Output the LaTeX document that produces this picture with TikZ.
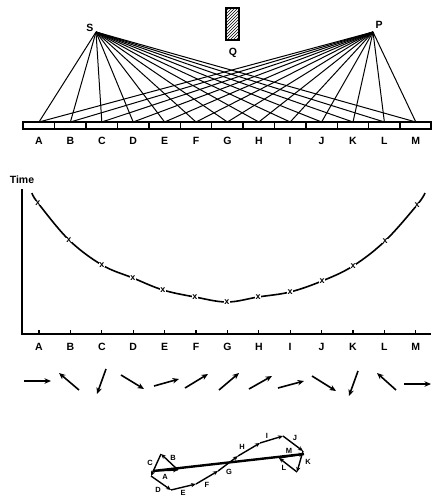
\documentclass[tikz,border=0pt]{standalone}
\usepackage{fontspec}
\setmainfont{Liberation Sans}
\usetikzlibrary{arrows.meta,patterns}
\begin{document}
\begin{tikzpicture}[x=1pt,y=-1pt,
  lbl/.style={font=\bfseries\fontsize{10.5}{12}\selectfont, inner sep=0pt},
  slbl/.style={font=\bfseries\fontsize{7.5}{8}\selectfont, inner sep=0pt},
  ray/.style={line width=1pt},
  axis/.style={line width=1.6pt},
  curve/.style={line width=1.6pt},
  xmark/.style={font=\bfseries\fontsize{9}{9}\selectfont, fill=white, inner sep=0.1pt},
  vec/.style={line width=1.6pt,-{Stealth[length=6.5pt,width=5.5pt]}},
  svec/.style={line width=1.4pt,-{Stealth[length=5pt,width=4.2pt]}},
  res/.style={line width=2.4pt}]
\useasboundingbox (0,0) rectangle (434,498);

% --- top: sources and strip
\coordinate (S) at (96,32);
\coordinate (P) at (373,32);
\node[lbl] (Slab) at (90,28) {S};
\node[lbl] (Plab) at (379,25) {P};
\node[draw, line width=1.2pt, pattern=north east lines, minimum width=13pt, minimum height=32pt, inner sep=0pt] (Q) at (232.5,24) {};
\node[lbl] (Qlab) at (233,53) {Q};

\draw[line width=1.5pt] (23,122) rectangle (431,129);
\foreach \i in {0,...,11} {
  \pgfmathsetmacro\dx{39+31.4*\i+15.7}
  \draw[line width=1.3pt] (\dx,122) -- (\dx,129);
}
\foreach \l [count=\i from 0] in {A,B,C,D,E,F,G,H,I,J,K,L,M} {
  \pgfmathsetmacro\xx{39+31.4*\i}
  \coordinate (s\l) at (\xx,122);
  \node[lbl] (t\l) at (\xx,141) {\l};
  \draw[ray] (S) -- (s\l);
  \draw[ray] (P) -- (s\l);
  % axis ticks and labels of the graph
  \coordinate (k\l) at (\xx,334);
  \draw[line width=1.1pt] (k\l) -- ++(0,-4);
  \node[lbl] (g\l) at (\xx,347) {\l};
}

% --- graph
\node[lbl] (time) at (22,180) {Time};
\coordinate (O) at (22,334);
\coordinate (Ytop) at (22,189);
\coordinate (Xend) at (431,334);
\draw[axis] (Ytop) -- (O) -- (Xend);
\draw[curve] plot[smooth, tension=0.6] coordinates {(32,193) (38,203) (69,240) (102,265) (133,278) (163,290) (195,297) (227,302) (258,297) (290,292) (322,281) (353,266) (385,241) (417,205) (425,193)};
\foreach \p [count=\i] in {(38,203),(69,240),(102,265),(133,278),(163,290),(195,297),(227,302),(258,297),(290,292),(322,281),(353,266),(385,241),(417,205)} {
  \node[xmark] (x\i) at \p {x};
}

% --- row of arrows
\coordinate (a1) at (24,381);  \coordinate (b1) at (51,381);
\coordinate (a2) at (79,390);  \coordinate (b2) at (59,373);
\coordinate (a3) at (106,369); \coordinate (b3) at (97,394);
\coordinate (a4) at (121,375); \coordinate (b4) at (144,389);
\coordinate (a5) at (154,386); \coordinate (b5) at (179,379);
\coordinate (a6) at (185,388); \coordinate (b6) at (208,374);
\coordinate (a7) at (219,390); \coordinate (b7) at (239,373);
\coordinate (a8) at (249,389); \coordinate (b8) at (272,376);
\coordinate (a9) at (278,388); \coordinate (b9) at (304,381);
\coordinate (a10) at (312,376); \coordinate (b10) at (336,391);
\coordinate (a11) at (358,371); \coordinate (b11) at (349,396);
\coordinate (a12) at (396,390); \coordinate (b12) at (377,373);
\coordinate (a13) at (404,384); \coordinate (b13) at (431,384);
\foreach \i in {1,...,13} { \draw[vec] (a\i) -- (b\i); }

% --- vector sum
\coordinate (p0) at (153,471);
\coordinate (p1) at (178,470);
\coordinate (p2) at (161,454);
\coordinate (p3) at (151,476);
\coordinate (p4) at (171,490);
\coordinate (p5) at (196,484);
\coordinate (p6) at (218,471);
\coordinate (p7) at (238,456);
\coordinate (p8) at (260,443);
\coordinate (p9) at (283,436);
\coordinate (p10) at (303,451);
\coordinate (p11) at (297,472);
\coordinate (p12) at (279,458);
\coordinate (p13) at (304,454);
\draw[res] (p0) -- (p13);
\foreach \i [remember=\i as \j (initially 0)] in {1,...,13} { \draw[svec] (p\j) -- (p\i); }
\node[slbl] (vA) at (165,477) {A};
\node[slbl] (vB) at (173,458) {B};
\node[slbl] (vC) at (150,463) {C};
\node[slbl] (vD) at (158,490) {D};
\node[slbl] (vE) at (183,493) {E};
\node[slbl] (vF) at (207,485) {F};
\node[slbl] (vG) at (229,472) {G};
\node[slbl] (vH) at (242,447) {H};
\node[slbl] (vI) at (267,436) {I};
\node[slbl] (vJ) at (295,438) {J};
\node[slbl] (vK) at (308,462) {K};
\node[slbl] (vL) at (284,468) {L};
\node[slbl] (vM) at (289,451) {M};
\end{tikzpicture}
\end{document}
